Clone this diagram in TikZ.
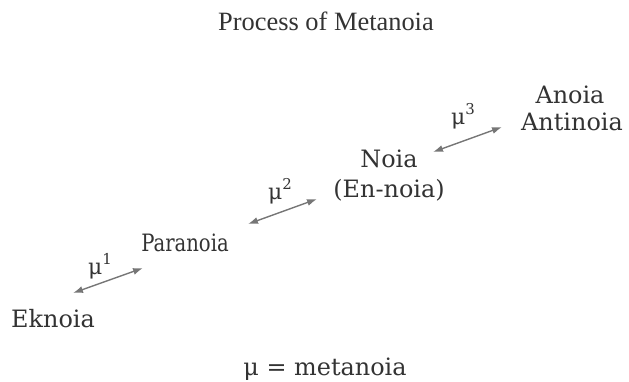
\documentclass[tikz,border=0pt]{standalone}
\usepackage{fontspec}
\usepackage{graphicx}
\setmainfont{DejaVu Serif}
\newfontfamily\titlefont{Liberation Serif}
\usetikzlibrary{arrows.meta}
\definecolor{inkc}{HTML}{333333}
\definecolor{arrc}{HTML}{767676}
\tikzset{
  lbl/.style={anchor=base, inner sep=0pt, text=inkc, font=\fontsize{24}{26}\selectfont},
  mulbl/.style={anchor=base, inner sep=0pt, text=inkc, font=\fontsize{22}{24}\selectfont},
  ttl/.style={anchor=base, inner sep=0pt, text=inkc, font=\titlefont\fontsize{26.5}{28}\selectfont},
  dbl/.style={draw=arrc, line width=1.4pt, {Latex[length=10pt,width=7pt]}-{Latex[length=10pt,width=7pt]}}
}
\newcommand{\mysup}[1]{\raisebox{0.42em}{\fontsize{15}{16}\selectfont #1}}
\begin{document}
\begin{tikzpicture}[x=1bp,y=-1bp]
\useasboundingbox (0,0) rectangle (629,381);
\node[ttl] (title) at (326,30) {Process of Metanoia};
\node[lbl] (anoia) at (570,103) {Anoia};
\node[lbl] (antinoia) at (572,130) {Antinoia};
\node[lbl] (noia) at (389,167) {Noia};
\node[lbl] (ennoia) at (389,197) {(En-noia)};
\node[lbl] (paranoia) at (185,251) {\scalebox{0.82}[1]{Paranoia}};
\node[lbl] (eknoia) at (53,327) {Eknoia};
\node[mulbl] (mu1) at (100,274) {μ\mysup{1}};
\node[mulbl] (mu2) at (280,199) {μ\mysup{2}};
\node[mulbl] (mu3) at (463,124) {μ\mysup{3}};
\node[lbl] (legend) at (325,375) {μ = metanoia};
\coordinate (a1s) at (73,293);
\coordinate (a1e) at (143,268);
\coordinate (a2s) at (248,224);
\coordinate (a2e) at (317,199);
\coordinate (a3s) at (433,152);
\coordinate (a3e) at (502,127);
\draw[dbl] (a1s) -- (a1e);
\draw[dbl] (a2s) -- (a2e);
\draw[dbl] (a3s) -- (a3e);
\end{tikzpicture}
\end{document}
